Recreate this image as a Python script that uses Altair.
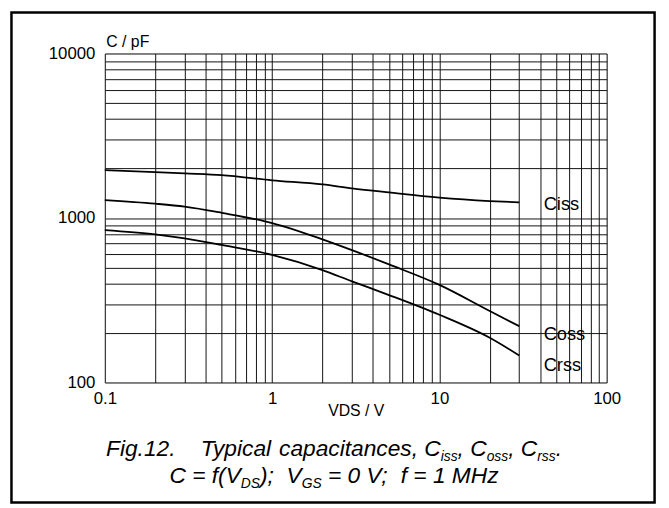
import altair as alt
import pandas as pd

# ---- data ----
vds = [0.1, 0.2, 0.3, 0.5, 1, 2, 3, 5, 10, 20, 30]
ciss = [1955, 1900, 1865, 1820, 1695, 1600, 1515, 1430, 1330, 1268, 1245]
coss = [1285, 1222, 1172, 1075, 932, 742, 638, 522, 392, 272, 220]
crss = [845, 796, 753, 686, 596, 482, 412, 340, 258, 187, 146]

curve_names = ["Ciss", "Coss", "Crss"]
curve_label_x = [42, 42, 42]
curve_label_y = [1222, 197, 127]

x_grid = [0.1, 0.2, 0.3, 0.4, 0.5, 0.6, 0.7, 0.8, 0.9,
          1, 2, 3, 4, 5, 6, 7, 8, 9,
          10, 20, 30, 40, 50, 60, 70, 80, 90, 100]
y_grid = [100, 200, 300, 400, 500, 600, 700, 800, 900,
          1000, 2000, 3000, 4000, 5000, 6000, 7000, 8000, 9000, 10000]
x_labels = [0.1, 1, 10, 100]
y_labels = [100, 1000, 10000]

FONT = "Liberation Sans"
W, H = 508, 333

rows = []
for name, vals in zip(curve_names, [ciss, coss, crss]):
    for xv, yv in zip(vds, vals):
        rows.append({"series": name, "vds": xv, "c": yv})
df = pd.DataFrame(rows)
lab = pd.DataFrame({"name": curve_names, "x": curve_label_x, "y": curve_label_y})

xscale = alt.Scale(type="log", domain=[0.1, 100], nice=False)
yscale = alt.Scale(type="log", domain=[100, 10000], nice=False)

x_axis = alt.Axis(
    values=x_grid, grid=True, gridColor="#111", gridOpacity=1, gridWidth=1,
    ticks=False, domain=False, labelFont=FONT, labelFontSize=17, labelColor="black",
    labelPadding=8, labelOverlap=False, labelFlush=False, format="~g",
    labelExpr="indexof([0.1, 1, 10, 100], datum.value) >= 0 ? datum.label : ''",
    title="VDS / V", titleFont=FONT, titleFontSize=16, titleFontWeight="normal",
    titleColor="black", titleX=W / 2, titleY=33, titleBaseline="alphabetic",
    titleAnchor="middle", titleAlign="center")
y_axis = alt.Axis(
    values=y_grid, grid=True, gridColor="#111", gridOpacity=1, gridWidth=1,
    ticks=False, domain=False, labelFont=FONT, labelFontSize=17, labelColor="black",
    labelPadding=10, labelOverlap=False, labelFlush=False, format="~g",
    labelExpr="indexof([100, 1000, 10000], datum.value) >= 0 ? datum.label : ''",
    title="C / pF", titleFont=FONT, titleFontSize=16, titleFontWeight="normal",
    titleColor="black", titleAngle=0, titleX=1, titleY=-7, titleAlign="left",
    titleBaseline="alphabetic")

lines = alt.Chart(df).mark_line(color="black", strokeWidth=1.8, interpolate="monotone").encode(
    x=alt.X("vds:Q", scale=xscale, axis=x_axis),
    y=alt.Y("c:Q", scale=yscale, axis=y_axis),
    detail="series:N",
)

labels = alt.Chart(lab).mark_text(font=FONT, fontSize=18.5, align="left", baseline="middle",
                                  color="black").encode(
    x=alt.X("x:Q", scale=xscale), y=alt.Y("y:Q", scale=yscale), text="name:N")

# ---- caption built from segments (with subscripts) ----
WID = {' ': 278, 'F': 611, 'i': 222, 'g': 556, '.': 278, '1': 556, '2': 556, 'T': 611,
       'y': 500, 'p': 556, 'c': 500, 'a': 556, 'l': 222, 't': 278, 's': 500, 'e': 556,
       'n': 556, ',': 278, 'C': 722, 'o': 556, 'r': 333, '=': 584, 'f': 278, '(': 333,
       ')': 333, 'V': 667, 'D': 722, 'S': 667, 'G': 778, ';': 278, '0': 556, 'M': 833,
       'H': 722, 'z': 500}


def tw(s, size):
    return sum(WID.get(ch, 556) for ch in s) / 1000.0 * size


CAP = 23
SUB = 14
cap_lines = [
    ([("Fig.12.", 0), ("    ", 0), ("Typical capacitances, C", 0), ("iss", 1), (", C", 0),
      ("oss", 1), (", C", 0), ("rss", 1), (".", 0)], 407),
    ([("C = f(V", 0), ("DS", 1), (");  V", 0), ("GS", 1), (" = 0 V;  f = 1 MHz", 0)], 435),
]
center_x = 232
seg_rows = []
for segs, base in cap_lines:
    total = sum(tw(t, SUB if s else CAP) for t, s in segs)
    cx = center_x - total / 2
    for t, s in segs:
        size = SUB if s else CAP
        parts = t.split(" ")
        # draw each word separately so spacing is kept exactly
        pos = cx
        for i, p in enumerate(parts):
            if p:
                seg_rows.append({"t": p, "px": pos, "py": base + (5 if s else 0), "sz": size})
            pos += tw(p, size) + (tw(" ", size) if i < len(parts) - 1 else 0)
        cx += tw(t, size)
cap_df = pd.DataFrame(seg_rows)

caption = alt.Chart(cap_df).mark_text(font=FONT, fontStyle="italic", align="left",
                                      baseline="alphabetic", color="black").encode(
    x=alt.X("px:Q", scale=None), y=alt.Y("py:Q", scale=None),
    text="t:N", size=alt.Size("sz:Q", scale=None, legend=None))

frame = alt.Chart(pd.DataFrame({"k": [0]})).mark_rect(
    fill=None, stroke="black", strokeWidth=2.5).encode(
    x=alt.value(-94.5), x2=alt.value(556.5), y=alt.value(-41.5), y2=alt.value(454.5))

chart = alt.layer(lines, labels, caption, frame).properties(
    width=W, height=H,
    autosize=alt.AutoSizeParams(type="none"),
    padding={"left": 98, "top": 43, "right": 55, "bottom": 124},
).configure_view(stroke="black", strokeWidth=2).configure(background="white")

chart.save("out.html", embed_options={"renderer": "svg", "actions": False})
